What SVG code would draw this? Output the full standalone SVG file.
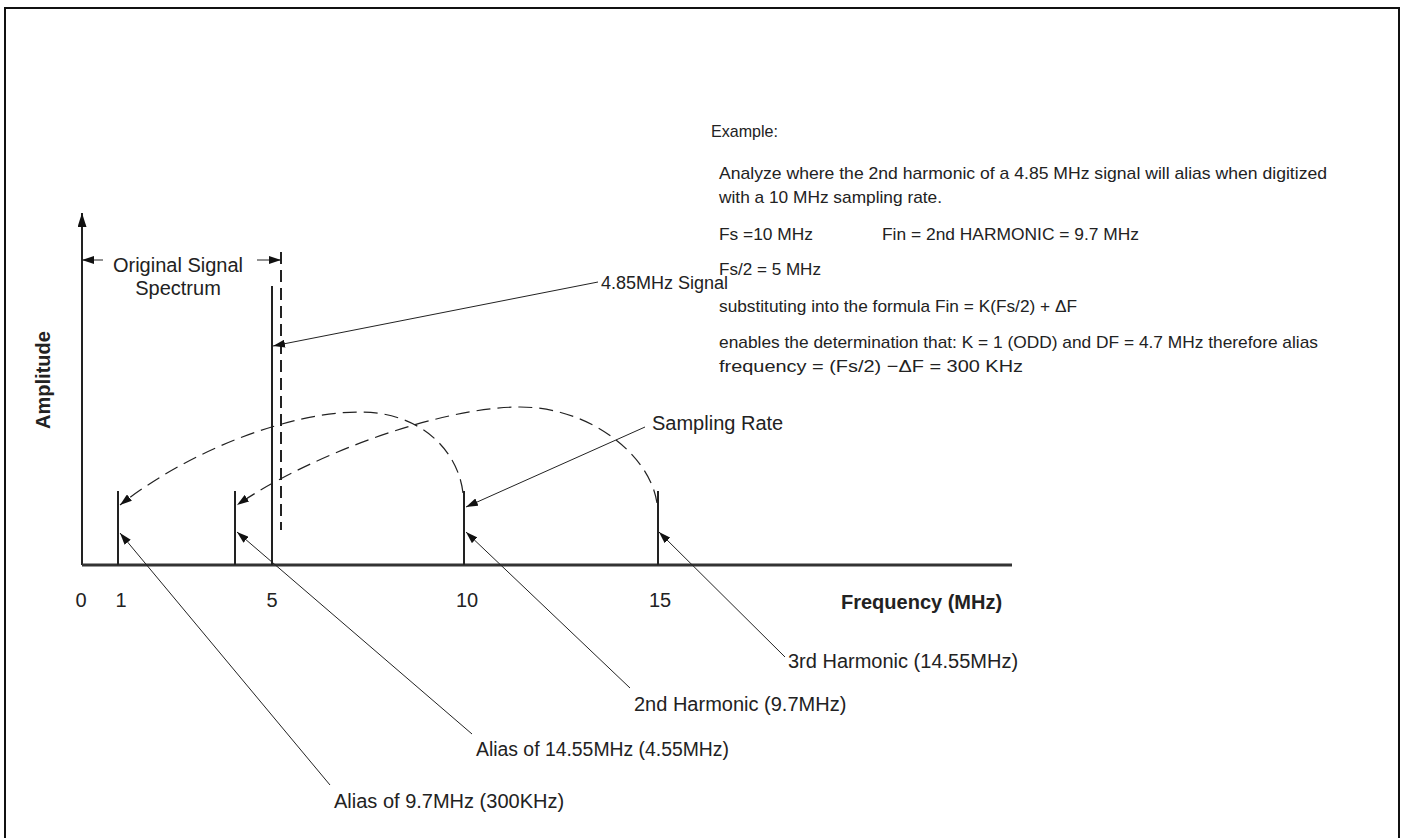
<svg xmlns="http://www.w3.org/2000/svg" width="1405" height="838" viewBox="0 0 1405 838">
<defs>
<style>
.t{font-family:"Liberation Sans",Arial,sans-serif;font-size:20px;fill:#222}
.b{font-family:"Liberation Sans",Arial,sans-serif;font-size:20px;font-weight:bold;fill:#222}
.n{font-family:"Liberation Sans",Arial,sans-serif;font-size:17px;fill:#222}
.lead{stroke:#222;stroke-width:1;fill:none}
.spec{stroke:#222;stroke-width:2;fill:none}
.arc{stroke:#222;stroke-width:1.2;fill:none;stroke-dasharray:14 7}
</style>
<marker id="ah" viewBox="0 0 12 8" refX="12" refY="4" markerWidth="12" markerHeight="8" markerUnits="userSpaceOnUse" orient="auto">
<path d="M0,0 L12,4 L0,8 Z" fill="#111"/>
</marker>
<marker id="ahy" viewBox="0 0 14 9" refX="14" refY="4.5" markerWidth="14" markerHeight="9" markerUnits="userSpaceOnUse" orient="auto">
<path d="M0,0 L14,4.5 L0,9 Z" fill="#111"/>
</marker>
</defs>
<rect x="5" y="8" width="1394" height="840" fill="#fff" stroke="#111" stroke-width="2"/>

<g id="axes">
<line x1="82" y1="565" x2="82" y2="213" stroke="#222" stroke-width="2" marker-end="url(#ahy)"/>
<line x1="82" y1="565" x2="1012" y2="565" stroke="#333" stroke-width="3"/>
<text class="t" x="81" y="607" text-anchor="middle">0</text>
<text class="t" x="121" y="607" text-anchor="middle">1</text>
<text class="t" x="272" y="607" text-anchor="middle">5</text>
<text class="t" x="467" y="607" text-anchor="middle">10</text>
<text class="t" x="660" y="607" text-anchor="middle">15</text>
<text class="b" x="841" y="609">Frequency (MHz)</text>
<text class="b" transform="translate(50,380) rotate(-90)" text-anchor="middle">Amplitude</text>
</g>

<g id="spectral-lines">
<line class="spec" x1="118" y1="491" x2="118" y2="565"/>
<line class="spec" x1="235" y1="491" x2="235" y2="565"/>
<line class="spec" x1="272" y1="286" x2="272" y2="565"/>
<line x1="281" y1="252" x2="281" y2="530" stroke="#222" stroke-width="2" stroke-dasharray="12 6"/>
<line class="spec" x1="464" y1="491" x2="464" y2="565"/>
<line class="spec" x1="658" y1="491" x2="658" y2="565"/>
</g>

<g id="original-signal-spectrum">
<line class="lead" x1="103" y1="260" x2="82" y2="260" stroke-width="1.5" marker-end="url(#ah)"/>
<line class="lead" x1="257" y1="260" x2="281" y2="260" stroke-width="1.5" marker-end="url(#ah)"/>
<text class="t" x="178" y="272" text-anchor="middle">Original Signal</text>
<text class="t" x="178" y="295" text-anchor="middle">Spectrum</text>
</g>

<g id="connectors">
<path class="arc" d="M463,493 C458,450 420,412 360,412 C290,412 190,450 120,505" marker-end="url(#ah)"/>
<path class="arc" d="M657,503 C650,455 590,407 520,407 C440,407 310,455 237,505" marker-end="url(#ah)"/>
<line class="lead" x1="598" y1="282" x2="273" y2="346" marker-end="url(#ah)"/>
<line class="lead" x1="645" y1="427" x2="466" y2="507" marker-end="url(#ah)"/>
<line class="lead" x1="330" y1="785" x2="120" y2="533" marker-end="url(#ah)"/>
<line class="lead" x1="472" y1="734" x2="237" y2="532" marker-end="url(#ah)"/>
<line class="lead" x1="630" y1="688" x2="466" y2="532" marker-end="url(#ah)"/>
<line class="lead" x1="785" y1="657" x2="659" y2="532" marker-end="url(#ah)"/>
</g>

<g id="label-signal"><text class="t" x="601" y="289" style="font-size:18px">4.85MHz Signal</text></g>
<g id="label-sampling"><text class="t" x="652" y="430">Sampling Rate</text></g>
<g id="label-3rd"><text class="t" x="788" y="668">3rd Harmonic (14.55MHz)</text></g>
<g id="label-2nd"><text class="t" x="634" y="711">2nd Harmonic (9.7MHz)</text></g>
<g id="label-alias1455"><text class="t" x="476" y="756" textLength="253" lengthAdjust="spacingAndGlyphs">Alias of 14.55MHz (4.55MHz)</text></g>
<g id="label-alias97"><text class="t" x="334" y="808">Alias of 9.7MHz (300KHz)</text></g>

<g id="example">
<text class="n" x="711" y="137" textLength="67" lengthAdjust="spacingAndGlyphs">Example:</text>
<text class="n" x="719" y="179" textLength="608" lengthAdjust="spacingAndGlyphs">Analyze where the 2nd harmonic of a 4.85 MHz signal will alias when digitized</text>
<text class="n" x="719" y="203" textLength="223" lengthAdjust="spacingAndGlyphs">with a 10 MHz sampling rate.</text>
<text class="n" x="719" y="240" textLength="94" lengthAdjust="spacingAndGlyphs">Fs =10 MHz</text>
<text class="n" x="882" y="240" textLength="257" lengthAdjust="spacingAndGlyphs">Fin = 2nd HARMONIC = 9.7 MHz</text>
<text class="n" x="719" y="275" textLength="102" lengthAdjust="spacingAndGlyphs">Fs/2 = 5 MHz</text>
<text class="n" x="719" y="312" textLength="358" lengthAdjust="spacingAndGlyphs">substituting into the formula Fin = K(Fs/2) + ΔF</text>
<text class="n" x="719" y="348" textLength="599" lengthAdjust="spacingAndGlyphs">enables the determination that: K = 1 (ODD) and DF = 4.7 MHz therefore alias</text>
<text class="n" x="719" y="372" textLength="304" lengthAdjust="spacingAndGlyphs">frequency = (Fs/2) −ΔF = 300 KHz</text>
</g>
</svg>
